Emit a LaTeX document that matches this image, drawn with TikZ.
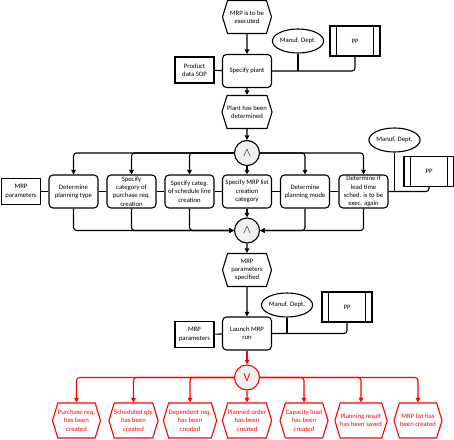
\documentclass[tikz,border=0pt]{standalone}
\usepackage{fontspec}
\setmainfont{Carlito}
\usetikzlibrary{shapes.geometric,shapes.symbols,arrows.meta}
\definecolor{ered}{RGB}{255,0,0}
\definecolor{opfill}{RGB}{240,240,240}
\tikzset{
  base/.style={font=\fontsize{6.7}{8.3}\selectfont, align=center, inner sep=0pt, line width=1.1pt},
  fn/.style={base, draw, rounded corners=4pt, minimum width=49pt, minimum height=33pt, fill=white},
  ev/.style={base, draw, signal, signal to=west and east, signal pointer angle=146, minimum width=49pt, minimum height=33pt, fill=white},
  redev/.style={ev, draw=ered, text=ered, minimum width=48pt, minimum height=35pt},
  info/.style={base, draw, minimum width=39pt, minimum height=26pt, fill=white},
  unit/.style={base, draw, ellipse, minimum width=51pt, minimum height=24pt, fill=white},
  sys/.style={base, draw, minimum width=50pt, minimum height=30pt, fill=white,
    path picture={\draw[line width=1.1pt] ([xshift=6.5pt]path picture bounding box.north west) -- ([xshift=6.5pt]path picture bounding box.south west);
                  \draw[line width=1.1pt] ([xshift=-6.5pt]path picture bounding box.north east) -- ([xshift=-6.5pt]path picture bounding box.south east);}},
  op/.style={base, draw, circle, minimum size=25pt, fill=opfill, font=\fontsize{12}{13}\selectfont},
  con/.style={line width=1.1pt, rounded corners=3pt},
  arr/.style={con, -{Triangle[length=4.5pt,width=4.5pt]}},
  rarr/.style={arr, draw=ered},
  rcon/.style={con, draw=ered},
}
\begin{document}
\begin{tikzpicture}[x=1pt,y=-1pt]
\useasboundingbox (0,0) rectangle (454,439);
% top block
\node[ev] (e1) at (247,17) {MRP is to be\\executed};
\node[fn] (f1) at (247,71) {Specify plant};
\node[info] (sop) at (194.5,70) {Product\\data SOP};
\node[unit] (md1) at (298,41) {Manuf. Dept.};
\node[sys] (pp1) at (355,41) {PP};
\node[ev] (e2) at (247,112) {Plant has been\\determined};
\node[op] (and1) at (247,153) {$\wedge$};
% function row
\node[info] (mrp1) at (21,191.5) {MRP\\parameters};
\node[fn] (b1) at (73.5,191.5) {Determine\\planning type};
\node[fn] (b2) at (131.5,191.5) {Specify\\category of\\purchase req.\\creation};
\node[fn] (b3) at (189.5,191.5) {Specify categ.\\of schedule line\\creation};
\node[fn] (b4) at (247,191.5) {Specify MRP list\\creation\\category};
\node[fn] (b5) at (305,191.5) {Determine\\planning mode};
\node[fn] (b6) at (363.5,191.5) {Determine if\\lead time\\sched. is to be\\exec. again};
\node[unit] (md2) at (394.5,140) {Manuf. Dept.};
\node[sys] (pp2) at (429,171.5) {PP};
\node[op] (and2) at (247,230.5) {$\wedge$};
\node[ev] (e3) at (247,270) {MRP\\parameters\\specified};
% launch
\node[fn] (f2) at (247,333.5) {Launch MRP\\run};
\node[info] (mrp2) at (194.5,334.5) {MRP\\parameters};
\node[unit] (md3) at (287,305) {Manuf. Dept.};
\node[sys] (pp3) at (347,307) {PP};
\node[op, draw=ered, text=ered] (or) at (247,377.5) {V};
% result events
\node[redev] (r1) at (76.5,420.5) {Purchase req.\\has been\\created};
\node[redev] (r2) at (133.5,420.5) {Scheduled qty\\has been\\created};
\node[redev] (r3) at (190,420.5) {Dependent req.\\has been\\created};
\node[redev] (r4) at (247,420.5) {Planned order\\has been\\created};
\node[redev] (r5) at (304,420.5) {Capacity load\\has been\\created};
\node[redev] (r6) at (361,420.5) {Planning result\\has been saved};
\node[redev] (r7) at (418,420.5) {MRP list has\\been created};
% connectors top
\draw[arr] (e1) -- (f1);
\draw[con] (sop) -- (f1);
\draw[con] (f1.east) -| (pp1.south);
\draw[con] (md1.south) -- (md1.south |- f1.east);
\draw[arr] (f1) -- (e2);
\draw[arr] (e2) -- (and1);
% split
\draw[arr] (and1.west) -| (b1.north);
\draw[arr] (and1.west) -| (b2.north);
\draw[arr] (and1.west) -| (b3.north);
\draw[arr] (and1) -- (b4);
\draw[arr] (and1.east) -| (b5.north);
\draw[arr] (and1.east) -| (b6.north);
% row links
\draw[con] (mrp1) -- (b1);
\draw[con] (b1) -- (b2);
\draw[con] (b2) -- (b3);
\draw[con] (b3) -- (b4);
\draw[con] (b4) -- (b5);
\draw[con] (b5) -- (b6);
\draw[con] (b6.east) -| (pp2.south);
\draw[con] (md2.south) -- (md2.south |- b6.east);
% join
\draw[arr] (b1.south) |- (and2.west);
\draw[arr] (b2.south) |- (and2.west);
\draw[arr] (b3.south) |- (and2.west);
\draw[arr] (b4) -- (and2);
\draw[arr] (b5.south) |- (and2.east);
\draw[arr] (b6.south) |- (and2.east);
\draw[arr] (and2) -- (e3);
\draw[arr] (e3) -- (f2);
% launch links
\draw[con] (mrp2) -- (f2);
\draw[con] (f2.east) -| (pp3.south);
\draw[con] (md3.south) -- (md3.south |- f2.east);
% results
\draw[rarr] (f2) -- (or);
\draw[rarr] (or.west) -| (r1.north);
\draw[rarr] (or.west) -| (r2.north);
\draw[rarr] (or.west) -| (r3.north);
\draw[rarr] (or) -- (r4);
\draw[rarr] (or.east) -| (r5.north);
\draw[rarr] (or.east) -| (r6.north);
\draw[rarr] (or.east) -| (r7.north);
\end{tikzpicture}
\end{document}
